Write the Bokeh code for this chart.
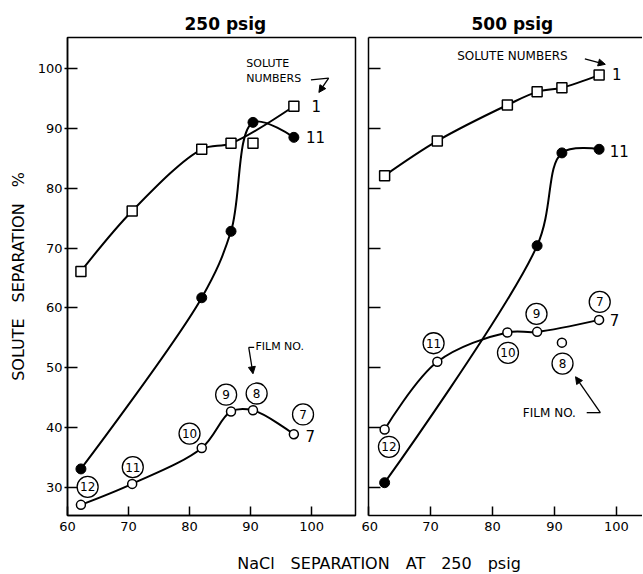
import math
from bokeh.plotting import figure
from bokeh.models import Range1d, LinearAxis, FixedTicker, Arrow, NormalHead, CustomLabelingPolicy
from bokeh.layouts import row, column
from bokeh.core.properties import value
from bokeh.embed import file_html
from bokeh.resources import INLINE

FONT = "DejaVu Sans"
nan = float("nan")

# ---------------- data ----------------
film_numbers = ["12", "11", "10", "9", "8", "7"]

# 250 psig panel (x = NaCl separation at 250 psig, per film 12..7)
nacl_250 = [62.2, 70.6, 82.0, 86.8, 90.4, 97.1]
sol1_250 = [66.1, 76.2, 86.5, 87.5, 87.5, 93.7]
sol11_250 = [33.1, nan, 61.7, 72.8, 91.0, 88.5]
sol7_250 = [27.1, 30.6, 36.6, 42.7, 42.9, 38.9]
sol1_250_off_curve = [4]

# 500 psig panel
nacl_500 = [62.6, 71.1, 82.4, 87.2, 91.2, 97.2]
sol1_500 = [82.1, 87.9, 93.9, 96.1, 96.8, 98.9]
sol11_500 = [30.8, nan, nan, 70.4, 85.9, 86.5]
sol7_500 = [39.7, 51.0, 55.9, 56.0, 54.2, 58.0]
sol7_500_off_curve = [4]

solute_labels = ["1", "11", "7"]
x_ticks = [60, 70, 80, 90, 100]
y_ticks = [30, 40, 50, 60, 70, 80, 90, 100]

# ---------------- label positions (annotation placement) ----------------
film_lbl_250_x = [63.3, 70.7, 80.0, 86.0, 91.0, 98.6]
film_lbl_250_y = [30.1, 33.4, 39.0, 45.5, 45.7, 42.2]
film_lbl_500_x = [63.3, 70.5, 82.5, 87.1, 91.3, 97.3]
film_lbl_500_y = [36.8, 54.1, 52.5, 59.0, 50.7, 61.0]
sol_lbl_250_x = [100.0, 99.1, 99.0]
sol_lbl_250_y = [93.7, 88.5, 38.6]
sol_lbl_500_x = [99.3, 98.9, 98.9]
sol_lbl_500_y = [99.0, 86.2, 58.0]

YR = (25.32, 105.18)
EM = "\u2003"
SX, SY = 6.1, 6.0   # approx. pixels per data unit, used only for spline knot spacing


def pts(xs, ys, skip=()):
    ox, oy = [], []
    for i, (a, b) in enumerate(zip(xs, ys)):
        if i in skip or b is None or (isinstance(b, float) and math.isnan(b)):
            continue
        ox.append(a)
        oy.append(b)
    return ox, oy


def curve(p, xs, ys, alpha=0.5):
    """Smooth curve through the measured points (centripetal Catmull-Rom as Bezier segments)."""
    n = len(xs)
    X = [xs[0]] + list(xs) + [xs[-1]]
    Y = [ys[0]] + list(ys) + [ys[-1]]

    def la(i, j):
        d = math.hypot((X[i] - X[j]) * SX, (Y[i] - Y[j]) * SY)
        return d ** alpha

    segs = {k: [] for k in ("x0", "y0", "x1", "y1", "cx0", "cy0", "cx1", "cy1")}
    for i in range(1, n):
        l01, l12, l23 = la(i - 1, i), la(i, i + 1), la(i + 1, i + 2)
        c1x, c1y = X[i], Y[i]
        c2x, c2y = X[i + 1], Y[i + 1]
        if l01 > 1e-9:
            a = 2 * l01 ** 2 + 3 * l01 * l12 + l12 ** 2
            m = 3 * l01 * (l01 + l12)
            c1x = (X[i] * a - X[i - 1] * l12 ** 2 + X[i + 1] * l01 ** 2) / m
            c1y = (Y[i] * a - Y[i - 1] * l12 ** 2 + Y[i + 1] * l01 ** 2) / m
        if l23 > 1e-9:
            b = 2 * l23 ** 2 + 3 * l23 * l12 + l12 ** 2
            m = 3 * l23 * (l23 + l12)
            c2x = (X[i + 1] * b + X[i] * l23 ** 2 - X[i + 2] * l12 ** 2) / m
            c2y = (Y[i + 1] * b + Y[i] * l23 ** 2 - Y[i + 2] * l12 ** 2) / m
        segs["x0"].append(X[i]); segs["y0"].append(Y[i])
        segs["x1"].append(X[i + 1]); segs["y1"].append(Y[i + 1])
        segs["cx0"].append(c1x); segs["cy0"].append(c1y)
        segs["cx1"].append(c2x); segs["cy1"].append(c2y)
    p.bezier(line_color="black", line_width=2, **segs)


def style_common(p):
    p.background_fill_color = "white"
    p.border_fill_color = "white"
    p.xgrid.grid_line_color = None
    p.ygrid.grid_line_color = None
    p.title.text_font = FONT
    p.title.text_font_size = "17px"
    p.title.text_font_style = "bold"
    p.title.text_color = "black"
    p.title.align = "left"
    p.title.standoff = 8
    for ax in p.xaxis:
        ax.ticker = FixedTicker(ticks=x_ticks)
        ax.major_tick_in = 9
        ax.major_tick_out = 0
        ax.minor_tick_line_color = None
        ax.axis_line_width = 1.5
        ax.major_tick_line_width = 1.5
        ax.major_label_text_font = FONT
        ax.major_label_text_font_size = "13px"
        ax.major_label_text_color = "black"
        ax.major_label_standoff = 6


def draw_series(p, nacl, s1, s1skip, s11, s7, s7skip, flx, fly, slx, sly):
    x, y = pts(nacl, s1, s1skip)
    curve(p, x, y)
    x, y = pts(nacl, s11)
    curve(p, x, y)
    x, y = pts(nacl, s7, s7skip)
    curve(p, x, y)
    x, y = pts(nacl, s1)
    p.scatter(x, y, marker="square", size=10, fill_color="white", line_color="black", line_width=1.5)
    x, y = pts(nacl, s11)
    p.scatter(x, y, marker="circle", size=10, fill_color="black", line_color="black")
    x, y = pts(nacl, s7)
    p.scatter(x, y, marker="circle", size=9, fill_color="white", line_color="black", line_width=1.5)
    # film number circles
    p.scatter(flx, fly, marker="circle", size=21, fill_color="white", line_color="black", line_width=1.3)
    p.text(flx, fly, text=film_numbers, text_font=value(FONT), text_font_size="12px",
           text_align="center", text_baseline="middle", text_color="black")
    # solute numbers
    p.text(slx, sly, text=solute_labels, text_font=value(FONT), text_font_size="15px",
           text_align="left", text_baseline="middle", text_color="black")


head = lambda: NormalHead(size=7, fill_color="black", line_color="black")

# ---------------- left panel ----------------
p1 = figure(width=361, height=540, x_range=Range1d(60, 107.2), y_range=Range1d(*YR),
            output_backend="svg", toolbar_location=None, title="250 psig",
            min_border_left=67, min_border_right=6, min_border_top=37, min_border_bottom=25)
style_common(p1)
p1.title.offset = 117
p1.outline_line_color = "black"
p1.outline_line_width = 1.5
for ax in p1.yaxis:
    ax.ticker = FixedTicker(ticks=y_ticks)
    ax.major_tick_in = 10
    ax.major_tick_out = 3
    ax.minor_tick_line_color = None
    ax.axis_line_width = 1.5
    ax.major_tick_line_width = 1.5
    ax.major_label_text_font = FONT
    ax.major_label_text_font_size = "13px"
    ax.major_label_text_color = "black"
    ax.major_label_standoff = 2
    ax.axis_label = "SOLUTE" + EM + "SEPARATION" + EM + "%"
    ax.axis_label_text_font = FONT
    ax.axis_label_text_font_size = "16px"
    ax.axis_label_text_font_style = "normal"
    ax.axis_label_text_color = "black"
    ax.axis_label_standoff = 7

draw_series(p1, nacl_250, sol1_250, sol1_250_off_curve, sol11_250, sol7_250, (),
            film_lbl_250_x, film_lbl_250_y, sol_lbl_250_x, sol_lbl_250_y)

p1.text([89.3, 89.3], [100.8, 98.3], text=["SOLUTE", "NUMBERS"], text_font=value(FONT),
        text_font_size="11px", text_align="left", text_baseline="middle")
p1.add_layout(Arrow(end=None, x_start=99.9, y_start=98.1, x_end=102.8, y_end=98.4, line_width=1.3))
p1.add_layout(Arrow(end=head(), x_start=102.8, y_start=98.4, x_end=101.2, y_end=96.0, line_width=1.3))
p1.text([90.8], [53.6], text=["FILM NO."], text_font=value(FONT),
        text_font_size="11px", text_align="left", text_baseline="middle")
p1.add_layout(Arrow(end=None, x_start=90.6, y_start=53.4, x_end=89.7, y_end=53.4, line_width=1.3))
p1.add_layout(Arrow(end=head(), x_start=89.7, y_start=53.4, x_end=90.4, y_end=49.0, line_width=1.3))

# ---------------- right panel ----------------
p2 = figure(width=281, height=540, x_range=Range1d(60, 104.2), y_range=Range1d(*YR),
            output_backend="svg", toolbar_location=None, title="500 psig",
            min_border_left=7, min_border_right=0, min_border_top=37, min_border_bottom=25)
style_common(p2)
p2.title.offset = 103
p2.outline_line_color = None
for ax in p2.yaxis:
    ax.ticker = FixedTicker(ticks=y_ticks)
    ax.major_tick_in = 12
    ax.major_tick_out = 0
    ax.minor_tick_line_color = None
    ax.axis_line_width = 1.5
    ax.major_tick_line_width = 1.5
    ax.major_label_policy = CustomLabelingPolicy(code="return new Set()")
    ax.major_label_text_font_size = "1px"
    ax.major_label_standoff = 0
top_ax = LinearAxis(ticker=FixedTicker(ticks=[]), major_tick_in=0, major_tick_out=0,
                    minor_tick_in=0, minor_tick_out=0,
                    major_label_policy=CustomLabelingPolicy(code="return new Set()"),
                    major_label_text_font_size="1px",
                    major_label_standoff=0, axis_line_width=1.5)
p2.add_layout(top_ax, "above")

draw_series(p2, nacl_500, sol1_500, (), sol11_500, sol7_500, sol7_500_off_curve,
            film_lbl_500_x, film_lbl_500_y, sol_lbl_500_x, sol_lbl_500_y)

p2.text([74.3], [102.1], text=["SOLUTE NUMBERS"], text_font=value(FONT),
        text_font_size="12px", text_align="left", text_baseline="middle")
p2.add_layout(Arrow(end=head(), x_start=94.9, y_start=101.6, x_end=98.2, y_end=100.7, line_width=1.3))
p2.text([84.9], [42.4], text=["FILM NO."], text_font=value(FONT),
        text_font_size="12px", text_align="left", text_baseline="middle")
p2.add_layout(Arrow(end=None, x_start=95.2, y_start=42.5, x_end=97.4, y_end=42.5, line_width=1.3))
p2.add_layout(Arrow(end=head(), x_start=97.4, y_start=42.5, x_end=93.4, y_end=48.5, line_width=1.3))

# ---------------- shared x label ----------------
p3 = figure(width=642, height=33, x_range=Range1d(0, 642), y_range=Range1d(0, 33),
            output_backend="svg", toolbar_location=None, min_border=0,
            x_axis_location=None, y_axis_location=None)
p3.xgrid.grid_line_color = None
p3.ygrid.grid_line_color = None
p3.outline_line_color = None
p3.background_fill_color = "white"
p3.border_fill_color = "white"
p3.text([378.5], [10], text=["NaCl" + EM + "SEPARATION" + EM + "AT" + EM + "250" + EM + "psig"],
        text_font=value(FONT), text_font_size="16px", text_align="center", text_baseline="middle")

layout = column(row(p1, p2), p3)
open("out.html", "w").write(file_html(layout, INLINE))
